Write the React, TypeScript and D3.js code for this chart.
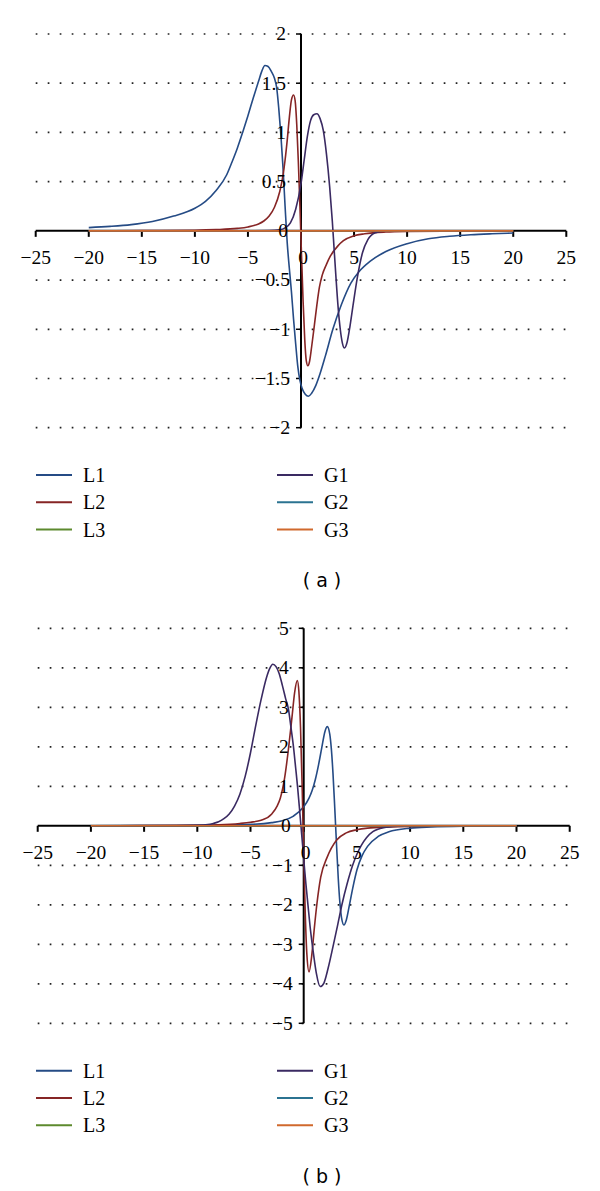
import React, { useRef, useEffect } from 'react';
import * as d3 from 'd3';

// ---- panel (a) ----
const l1aX = [-20, -18, -16, -14, -12, -10, -9, -8, -7, -6.5, -6, -5.5, -5, -4.5, -4, -3.7, -3.4, -3.1, -2.8, -2.5, -2.3, -2.1, -1.9, -1.7, -1.5, -1.3, -1.1, -0.9, -0.7, -0.5, -0.3, -0.1, 0.1, 0.4, 0.7, 1.0, 1.4, 1.8, 2.3, 3.0, 3.8, 4.7, 5.5, 6.5, 8, 10, 12, 14, 16, 18, 20];
const l1aY = [0.033, 0.045, 0.063, 0.095, 0.15, 0.23, 0.3, 0.41, 0.57, 0.7, 0.84, 1.0, 1.17, 1.35, 1.52, 1.62, 1.68, 1.67, 1.62, 1.55, 1.46, 1.25, 0.98, 0.65, 0.25, -0.12, -0.38, -0.62, -0.9, -1.15, -1.38, -1.52, -1.6, -1.66, -1.68, -1.65, -1.57, -1.45, -1.27, -1.0, -0.75, -0.53, -0.41, -0.31, -0.21, -0.13, -0.08, -0.055, -0.04, -0.03, -0.022];

const l2aX = [-20, -15, -10, -8, -6, -5, -4, -3.5, -3, -2.5, -2, -1.7, -1.5, -1.3, -1.1, -0.9, -0.7, -0.55, -0.4, -0.25, -0.1, 0.05, 0.2, 0.35, 0.5, 0.65, 0.8, 1.0, 1.27, 1.5, 1.74, 2.0, 2.4, 2.75, 3.5, 4, 5, 6, 8, 10, 15, 20];
const l2aY = [0.001, 0.002, 0.006, 0.012, 0.025, 0.04, 0.07, 0.1, 0.15, 0.24, 0.4, 0.56, 0.72, 0.92, 1.15, 1.33, 1.38, 1.32, 1.08, 0.7, 0.25, -0.25, -0.72, -1.1, -1.32, -1.37, -1.33, -1.18, -0.95, -0.75, -0.57, -0.45, -0.34, -0.26, -0.15, -0.1, -0.05, -0.03, -0.012, -0.006, -0.002, -0.001];

const g1aX = [-20, -5, -3, -2, -1.5, -1, -0.5, 0, 0.3, 0.6, 0.9, 1.2, 1.5, 1.8, 2.1, 2.4, 2.7, 2.95, 3.1, 3.3, 3.5, 3.7, 3.9, 4.1, 4.35, 4.6, 4.9, 5.3, 5.8, 6.3, 7, 8, 20];
const g1aY = [0, 0, 0.002, 0.01, 0.03, 0.08, 0.22, 0.48, 0.72, 0.96, 1.12, 1.18, 1.19, 1.14, 1.02, 0.78, 0.45, 0.1, -0.15, -0.48, -0.78, -1.0, -1.14, -1.19, -1.13, -0.98, -0.76, -0.48, -0.22, -0.09, -0.02, 0, 0];

// ---- panel (b) ----
const l1bX = [-20, -10, -5, -3, -2, -1, 0, 0.5, 0.8, 1.1, 1.4, 1.7, 2.0, 2.22, 2.45, 2.6, 2.75, 2.9, 3.0, 3.1, 3.25, 3.4, 3.55, 3.78, 4.0, 4.3, 4.6, 5.0, 5.5, 6, 7, 8, 10, 12, 15, 20];
const l1bY = [0.002, 0.009, 0.035, 0.08, 0.13, 0.24, 0.48, 0.7, 0.9, 1.18, 1.55, 1.98, 2.39, 2.51, 2.32, 1.94, 1.34, 0.56, 0, -0.56, -1.34, -1.94, -2.32, -2.51, -2.39, -2.0, -1.59, -1.12, -0.75, -0.52, -0.27, -0.15, -0.06, -0.03, -0.012, -0.004];

const l2bX = [-20, -15, -10, -8, -6, -5, -4, -3, -2.5, -2.2, -1.8, -1.43, -1.1, -0.85, -0.6, -0.45, -0.3, -0.15, 0, 0.15, 0.3, 0.5, 0.75, 1.0, 1.24, 1.6, 2.2, 3.1, 4, 5, 6, 8, 10, 15, 20];
const l2bY = [0.002, 0.004, 0.012, 0.025, 0.06, 0.09, 0.14, 0.3, 0.5, 0.7, 1.2, 1.95, 2.75, 3.38, 3.68, 3.39, 2.5, 1.04, -0.7, -2.25, -3.26, -3.7, -3.3, -2.59, -1.98, -1.3, -0.8, -0.36, -0.18, -0.1, -0.06, -0.03, -0.015, -0.004, -0.002];

const g1bX = [-20, -12, -10, -9, -8.5, -8, -7.5, -7, -6.5, -6, -5.5, -5, -4.5, -4, -3.5, -3.2, -2.9, -2.6, -2.3, -2.0, -1.7, -1.43, -1.2, -0.96, -0.75, -0.58, -0.4, -0.26, -0.1, 0.05, 0.2, 0.4, 0.6, 0.8, 1.0, 1.2, 1.55, 1.9, 2.3, 2.8, 3.2, 3.59, 4.1, 4.6, 5.0, 5.4, 5.9, 6.5, 7.5, 9, 10, 20];
const g1bY = [0, 0, 0.01, 0.03, 0.06, 0.1, 0.18, 0.3, 0.5, 0.8, 1.25, 1.85, 2.55, 3.2, 3.75, 3.98, 4.09, 4.03, 3.85, 3.55, 3.22, 2.95, 2.5, 2.0, 1.45, 1.0, 0.45, 0, -0.5, -1.0, -1.45, -2.0, -2.55, -3.0, -3.4, -3.75, -4.07, -3.98, -3.6, -3.0, -2.5, -2.0, -1.45, -1.0, -0.72, -0.5, -0.3, -0.15, -0.05, -0.01, 0, 0];

// flat series (L3, G2, G3) lie on the x axis
const flatX = [-20, 20];
const flatY = [0, 0];

const seriesNames = ['L1', 'L2', 'L3', 'G1', 'G2', 'G3'];
const seriesColors = ['#254b85', '#862525', '#5d8a2e', '#3a2a62', '#2b7391', '#d0692d'];

const xTicks = [-25, -20, -15, -10, -5, 0, 5, 10, 15, 20, 25];
const yTicksA = [-2, -1.5, -1, -0.5, 0, 0.5, 1, 1.5, 2];
const yTicksB = [-5, -4, -3, -2, -1, 0, 1, 2, 3, 4, 5];

const panels = [
  {
    caption: '( a )',
    xRange: [35.7, 566.3],
    yDomain: [-2, 2],
    yRange: [427.7, 34],
    yTicks: yTicksA,
    legendTop: 475,
    captionY: 580,
    series: [[l1aX, l1aY], [l2aX, l2aY], [flatX, flatY], [g1aX, g1aY], [flatX, flatY], [flatX, flatY]],
  },
  {
    caption: '( b )',
    xRange: [37.7, 569.7],
    yDomain: [-5, 5],
    yRange: [1023.3, 628.3],
    yTicks: yTicksB,
    legendTop: 1070.7,
    captionY: 1176.7,
    series: [[l1bX, l1bY], [l2bX, l2bY], [flatX, flatY], [g1bX, g1bY], [flatX, flatY], [flatX, flatY]],
  },
];

const serif = '"Liberation Serif", "Times New Roman", serif';
const fmt = (v: number) => (v < 0 ? '\u2212' : '') + Math.abs(v);

const App = () => {
  const svgRef = useRef<SVGSVGElement>(null);

  useEffect(() => {
    const svg = d3.select(svgRef.current);
    svg.selectAll('*').remove();

    panels.forEach(p => {
      const x = d3.scaleLinear().domain([-25, 25]).range(p.xRange);
      const y = d3.scaleLinear().domain(p.yDomain).range(p.yRange);
      const x0 = x(0);
      const y0 = y(0);
      const g = svg.append('g');

      // dotted grid
      g.selectAll('line.grid')
        .data(p.yTicks.filter(t => t !== 0))
        .join('line')
        .attr('x1', p.xRange[0])
        .attr('x2', p.xRange[1] + 2)
        .attr('y1', d => y(d))
        .attr('y2', d => y(d))
        .attr('stroke', '#222')
        .attr('stroke-width', 1.7)
        .attr('stroke-dasharray', '1.7,10.3');

      // axes
      g.append('line')
        .attr('x1', p.xRange[0]).attr('x2', p.xRange[1])
        .attr('y1', y0).attr('y2', y0)
        .attr('stroke', '#000').attr('stroke-width', 2);
      g.append('line')
        .attr('x1', x0).attr('x2', x0)
        .attr('y1', y(p.yDomain[1])).attr('y2', y(p.yDomain[0]))
        .attr('stroke', '#000').attr('stroke-width', 2);

      g.selectAll('line.xt')
        .data(xTicks)
        .join('line')
        .attr('x1', d => x(d)).attr('x2', d => x(d))
        .attr('y1', y0).attr('y2', y0 + 6)
        .attr('stroke', '#000').attr('stroke-width', 2);

      g.selectAll('line.yt')
        .data(p.yTicks)
        .join('line')
        .attr('x1', x0 - 5).attr('x2', x0)
        .attr('y1', d => y(d)).attr('y2', d => y(d))
        .attr('stroke', '#000').attr('stroke-width', 1.5);

      // curves
      const line = d3.line<[number, number]>()
        .x(d => x(d[0]))
        .y(d => y(d[1]))
        .curve(d3.curveMonotoneX);

      p.series.forEach(([xs, ys], i) => {
        const pts = xs.map((v, k) => [v, ys[k]] as [number, number]);
        g.append('path')
          .attr('d', line(pts))
          .attr('fill', 'none')
          .attr('stroke', seriesColors[i])
          .attr('stroke-width', 1.6);
      });

      // tick labels
      g.selectAll('text.xl')
        .data(xTicks)
        .join('text')
        .attr('x', d => x(d) + (d === 0 ? 2 : 0))
        .attr('y', y0 + 26)
        .attr('dy', '0.35em')
        .attr('text-anchor', 'middle')
        .attr('font-family', serif)
        .attr('font-size', 19.5)
        .text(d => fmt(d));

      g.selectAll('text.yl')
        .data(p.yTicks)
        .join('text')
        .attr('x', d => (d > 0 ? x0 - 15 : d === 0 ? x0 - 13 : x0 - 11))
        .attr('y', d => y(d))
        .attr('dy', '0.33em')
        .attr('text-anchor', 'end')
        .attr('font-family', serif)
        .attr('font-size', 19.5)
        .text(d => fmt(d));

      // legend
      seriesNames.forEach((name, i) => {
        const col = i < 3 ? 0 : 1;
        const row = i % 3;
        const lx = col === 0 ? 36 : 277;
        const ly = p.legendTop + row * 27.3;
        g.append('line')
          .attr('x1', lx).attr('x2', lx + 36)
          .attr('y1', ly).attr('y2', ly)
          .attr('stroke', seriesColors[i]).attr('stroke-width', 2);
        g.append('text')
          .attr('x', lx + 47)
          .attr('y', ly)
          .attr('dy', '0.35em')
          .attr('font-family', serif)
          .attr('font-size', 20)
          .text(name);
      });

      g.append('text')
        .attr('x', 322)
        .attr('y', p.captionY)
        .attr('dy', '0.35em')
        .attr('text-anchor', 'middle')
        .attr('font-family', '"DejaVu Sans", sans-serif')
        .attr('font-size', 19)
        .text(p.caption);
    });
  }, []);

  return (
    <svg
      ref={svgRef}
      width={600}
      height={1191}
      style={{ position: 'absolute', left: 0, top: 0, background: '#fff' }}
    />
  );
};

export default App;
